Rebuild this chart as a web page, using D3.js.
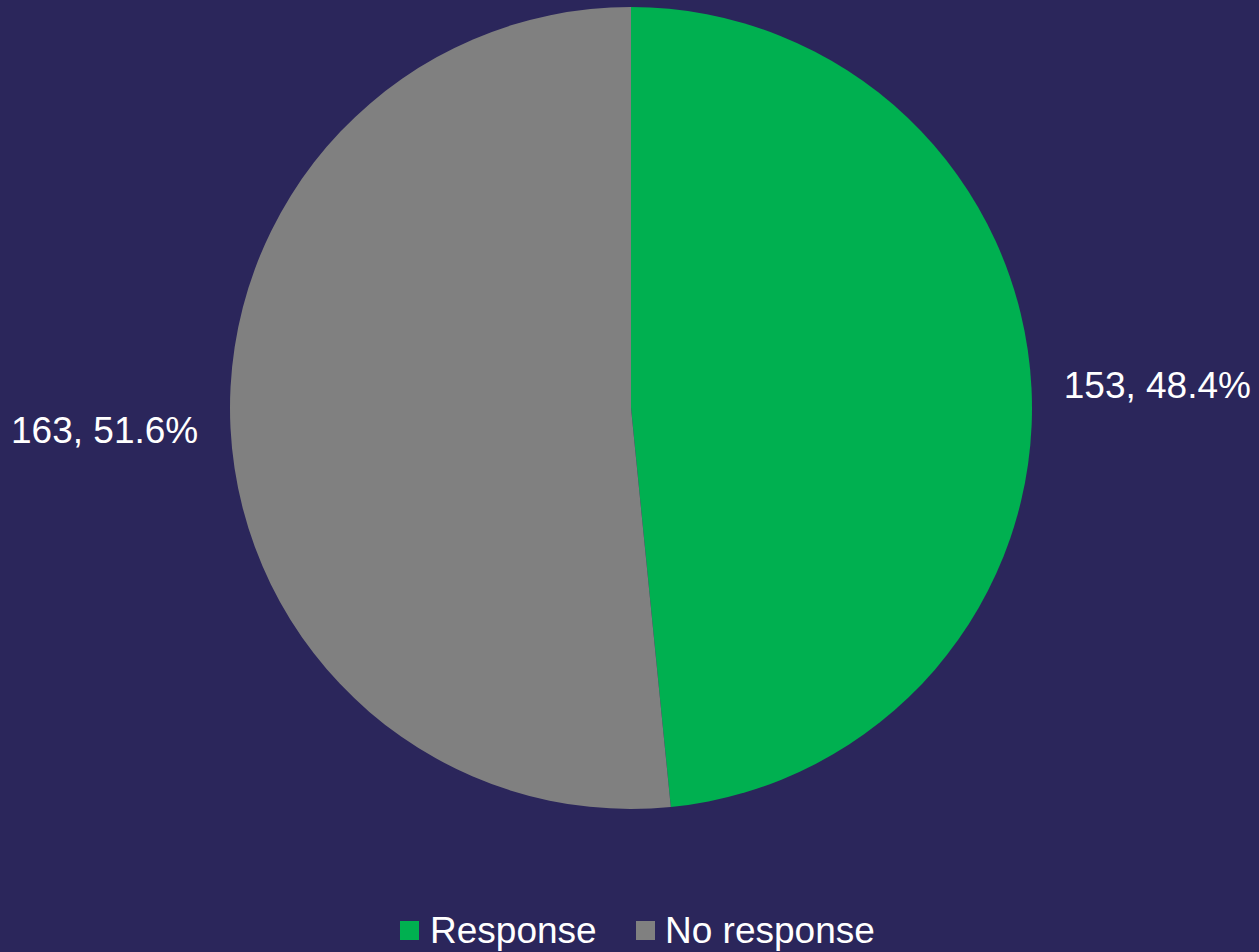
<!DOCTYPE html>
<html>
<head>
<meta charset="utf-8">
<script src="https://cdn.jsdelivr.net/npm/d3@7"></script>
<style>
  html, body { margin: 0; padding: 0; background: #2b265b; }
  svg { display: block; }
</style>
</head>
<body>
<svg id="chart" width="1259" height="952"></svg>
<script>
// Survey outcome counts
const categories = ["Response", "No response"];
const counts = [153, 163];
const colors = ["#00b050", "#808080"];

const width = 1259, height = 952;
const cx = 631, cy = 408, radius = 401;
const labelRadius = 527;
const font = "'Liberation Sans', Arial, sans-serif";

const svg = d3.select("#chart");
svg.append("rect").attr("width", width).attr("height", height).attr("fill", "#2b265b");

const data = categories.map((c, i) => ({ category: c, value: counts[i], color: colors[i] }));
const total = d3.sum(counts);

const pie = d3.pie().value(d => d.value).sort(null);
const arc = d3.arc().innerRadius(0).outerRadius(radius);
const arcs = pie(data);

const g = svg.append("g").attr("transform", `translate(${cx},${cy})`);

g.selectAll("path.slice")
  .data(arcs)
  .join("path")
  .attr("class", "slice")
  .attr("d", arc)
  .attr("fill", d => d.data.color);

// Value labels placed outside each slice along its mid-angle
g.selectAll("text.label")
  .data(arcs)
  .join("text")
  .attr("class", "label")
  .attr("x", d => labelRadius * Math.sin((d.startAngle + d.endAngle) / 2))
  .attr("y", d => -0.86 * labelRadius * Math.cos((d.startAngle + d.endAngle) / 2))
  .attr("dy", "0.35em")
  .attr("text-anchor", "middle")
  .attr("fill", "#ffffff")
  .attr("font-family", font)
  .attr("font-size", 37)
  .text(d => `${d.data.value}, ${(d.data.value / total * 100).toFixed(1)}%`);

// Legend
const legendItems = [
  { x: 400, textX: 430 },
  { x: 636, textX: 665 }
];
const legend = svg.append("g");
data.forEach((d, i) => {
  legend.append("rect")
    .attr("x", legendItems[i].x)
    .attr("y", 921)
    .attr("width", 19)
    .attr("height", 19)
    .attr("fill", d.color);
  legend.append("text")
    .attr("x", legendItems[i].textX)
    .attr("y", 943)
    .attr("fill", "#ffffff")
    .attr("font-family", font)
    .attr("font-size", 37)
    .text(d.category);
});
</script>
</body>
</html>
